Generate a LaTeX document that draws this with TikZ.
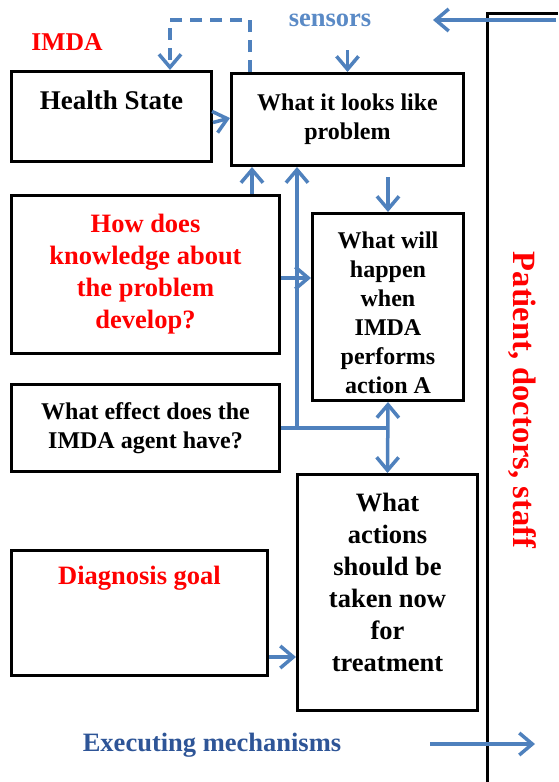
\documentclass[tikz,border=0pt]{standalone}
\usepackage{fontspec}
\setmainfont{Liberation Serif}
\usetikzlibrary{arrows.meta}

\definecolor{arrowblue}{HTML}{4F81BD}
\definecolor{senseblue}{HTML}{5A8AC6}
\definecolor{execblue}{HTML}{2E5597}
\definecolor{imdared}{HTML}{FF0000}

\begin{document}
\begin{tikzpicture}[x=1pt, y=-1pt,
	box/.style={draw, line width=3pt, inner sep=0pt, align=center, font=\bfseries\fontsize{24}{29}\selectfont},
	bigbox/.style={box, font=\bfseries\fontsize{26.5}{32}\selectfont},
	boxtxt/.style={align=center, inner sep=0pt, font=\bfseries\fontsize{26.5}{32}\selectfont},
	flow/.style={arrowblue, line width=3.5pt, -{Straight Barb[length=13pt,width=22pt]}},
	twoway/.style={flow, {Straight Barb[length=13pt,width=22pt]}-{Straight Barb[length=13pt,width=22pt]}},
	link/.style={arrowblue, line width=3.5pt},
	wall/.style={line width=3pt}]
	\useasboundingbox (0,0) rectangle (558,782);

	% boxes
	\node[box, minimum width=200pt, minimum height=90pt] (health) at (111.5,116.5) {};
	\node[boxtxt, font=\bfseries\fontsize{27}{32}\selectfont] (healthtxt) at (111.5,100) {Health State};
	\node[box, minimum width=232pt, minimum height=92pt] (look) at (347.5,119.5) {What it looks like\\problem};
	\node[bigbox, minimum width=268pt, minimum height=158pt, text=imdared] (know) at (145.5,274.5) {How does\\knowledge about\\the problem\\develop?};
	\node[box, minimum width=151pt, minimum height=187pt] (happen) at (388,307) {};
	\node[boxtxt, font=\bfseries\fontsize{24}{29}\selectfont] (happentxt) at (388,312.5) {What will\\happen\\when\\IMDA\\performs\\action A};
	\node[box, minimum width=268pt, minimum height=87pt] (effect) at (145.5,428) {What effect does the\\IMDA agent have?};
	\node[box, minimum width=180pt, minimum height=236pt] (act) at (387.5,592.5) {};
	\node[boxtxt] (acttxt) at (387.5,582.5) {What\\actions\\should be\\taken now\\for\\treatment};
	\node[box, minimum width=256pt, minimum height=125pt] (goal) at (139.5,613) {};
	\node[boxtxt, text=imdared] (goaltxt) at (139.5,578) {Diagnosis goal};

	% labels
	\node[boxtxt, text=imdared, font=\bfseries\fontsize{25.6}{30}\selectfont] (imda) at (67,42) {IMDA};
	\node[boxtxt, text=senseblue] (sensors) at (330,20) {sensors};
	\node[boxtxt, text=execblue] (exec) at (212,745) {Executing mechanisms};
	\node[boxtxt, text=imdared, rotate=-90, font=\bfseries\fontsize{32.5}{38}\selectfont] (people) at (522,400) {Patient, doctors, staff};

	% patient side
	\draw[wall] (487,782) -- (487,13) -- (558,13);
	\coordinate (sensfrom) at (556,20);
	\coordinate (sensto) at (433,20);
	\coordinate (execfrom) at (430,744);
	\coordinate (execto) at (535,744);
	\draw[flow] (sensfrom) -- (sensto);
	\draw[flow] (execfrom) -- (execto);

	% connectors
	\draw[flow] ([yshift=22pt]look.north) -- (look.north);
	\draw[flow, dash pattern=on 12pt off 8pt] (look.north -| 250,0) |- (170,20) -- (health.north -| 170,0);
	\draw[flow] ([yshift=-6pt]health.east) -- (look.west |- 0,118);
	\draw[flow] (know.north -| 252,0) -- (look.south -| 252,0);
	\draw[flow] (know.east |- 0,278) -- (happen.west |- 0,278);
	\draw[flow] ([yshift=-10pt]look.south -| happen.north) -- (happen.north);
	\draw[link] (effect.east) -- (effect.east -| happen.south);
	\draw[flow] (effect.east -| 297,0) -- (look.south -| 297,0);
	\draw[twoway] (happen.south) -- (act.north);
	\draw[flow] (goal.east |- 0,657) -- (act.west |- 0,657);
\end{tikzpicture}
\end{document}
